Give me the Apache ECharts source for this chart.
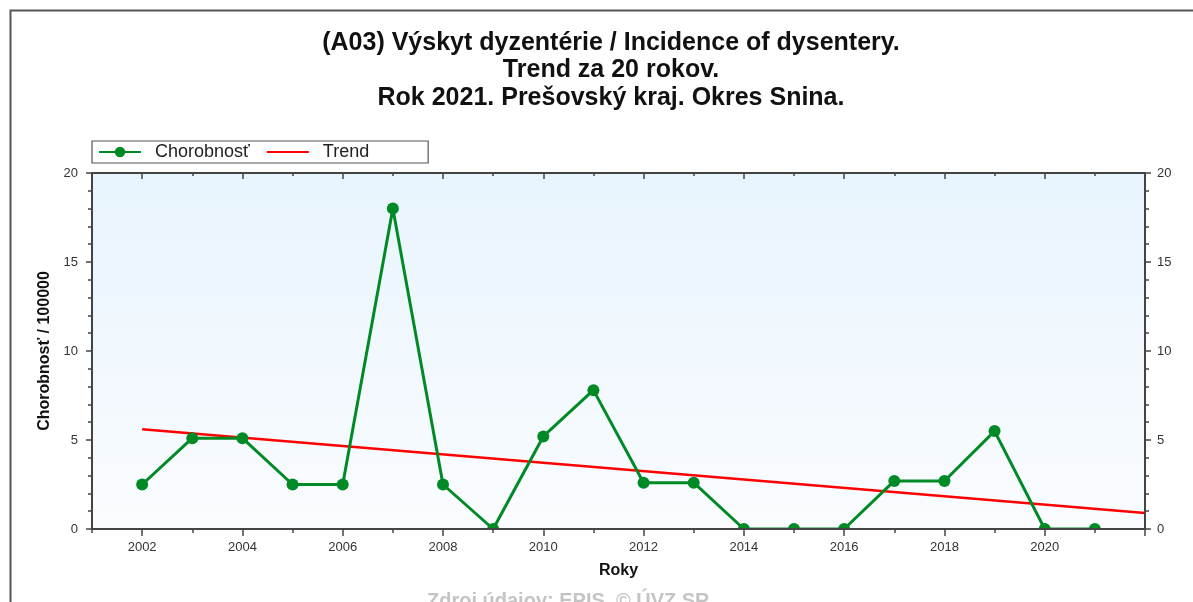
<!DOCTYPE html>
<html>
<head>
<meta charset="utf-8">
<script src="https://cdn.jsdelivr.net/npm/echarts@6/dist/echarts.min.js"></script>
<style>html,body{margin:0;padding:0;background:#fff;}#c{width:1193px;height:602px;}</style>
</head>
<body>
<div id="c"></div>
<script>
// ---- data ----
const titleLines = [
  '(A03) Výskyt dyzentérie / Incidence of dysentery.',
  'Trend za 20 rokov.',
  'Rok 2021. Prešovský kraj. Okres Snina.'
];
const years = [2002, 2003, 2004, 2005, 2006, 2007, 2008, 2009, 2010, 2011,
               2012, 2013, 2014, 2015, 2016, 2017, 2018, 2019, 2020, 2021];
const incidence = [2.5, 5.1, 5.1, 2.5, 2.5, 18.0, 2.5, 0, 5.2, 7.8,
                   2.6, 2.6, 0, 0, 0, 2.7, 2.7, 5.5, 0, 0];
const trendYears = [2002, 2022];
const trendValues = [5.6, 0.9];
const xTickYears = ['2001','2002','2003','2004','2005','2006','2007','2008','2009','2010','2011',
                    '2012','2013','2014','2015','2016','2017','2018','2019','2020','2021','2022'];
const yTicks = [0, 5, 10, 15, 20];
const seriesNames = ['Chorobnosť', 'Trend'];
const xName = 'Roky';
const yName = 'Chorobnosť / 100000';
const sourceText = 'Zdroj údajov: EPIS, © ÚVZ SR';

const FONT = 'Liberation Sans, Arial, sans-serif';
const AX = '#444';
const xMin = Number(xTickYears[0]), xMax = Number(xTickYears[xTickYears.length - 1]);
const yMin = yTicks[0], yMax = yTicks[yTicks.length - 1], yStep = yTicks[1] - yTicks[0];

const chart = echarts.init(document.getElementById('c'), null, {renderer: 'canvas'});
const grid = {left: 92, right: 48, top: 173, bottom: 73, show: true, borderWidth: 0,
  backgroundColor: new echarts.graphic.LinearGradient(0, 0, 0, 1, [
    {offset: 0, color: '#e8f4fd'}, {offset: 1, color: '#fafcff'}])};

const baseVal = {type: 'value', min: xMin, max: xMax, interval: 1, splitLine: {show: false}, z: 10};
const option = {
  animation: false,
  backgroundColor: '#fff',
  textStyle: {fontFamily: FONT},
  title: {
    text: titleLines.join('\n'),
    left: 606, textAlign: 'center', top: 24,
    textStyle: {fontFamily: FONT, fontSize: 25, fontWeight: 'bold', color: '#111', lineHeight: 27.5}
  },
  legend: {
    left: 92, top: 141,
    data: [seriesNames[0], {name: seriesNames[1], itemStyle: {opacity: 0}}],
    itemWidth: 42, itemHeight: 13, itemGap: 16,
    padding: [1, 59, 1, 6],
    borderColor: '#555', borderWidth: 1.2,
    textStyle: {fontFamily: FONT, fontSize: 18, color: '#222', padding: [0, 0, 0, 9], lineHeight: 20}
  },
  grid: grid,
  xAxis: [
    Object.assign({}, baseVal, {
      position: 'bottom', gridIndex: 0,
      name: xName, nameLocation: 'middle', nameGap: 34,
      nameTextStyle: {fontFamily: FONT, fontSize: 16, fontWeight: 'bold', color: '#111'},
      axisLine: {show: true, lineStyle: {color: AX, width: 2}},
      axisTick: {show: true, length: 4, lineStyle: {color: AX, width: 1.5}},
      axisLabel: {fontFamily: FONT, fontSize: 13, color: '#333', margin: 12, showMaxLabel: false,
        formatter: v => (v % 2 === 0 && v < xMax ? String(v) : '')}
    }),
    {
      type: 'category', data: xTickYears, boundaryGap: false, position: 'bottom', z: 10,
      axisLine: {show: false}, axisLabel: {show: false}, splitLine: {show: false},
      axisTick: {show: true, length: 7, interval: (i, v) => Number(v) % 2 === 0,
        lineStyle: {color: AX, width: 1.5}}
    },
    Object.assign({}, baseVal, {
      position: 'top',
      axisLine: {show: true, lineStyle: {color: AX, width: 2}},
      axisTick: {show: true, inside: true, length: 3, lineStyle: {color: AX, width: 1.5}},
      axisLabel: {show: false}
    }),
    {
      type: 'category', data: xTickYears, boundaryGap: false, position: 'top', z: 10,
      axisLine: {show: false}, axisLabel: {show: false}, splitLine: {show: false},
      axisTick: {show: true, inside: true, length: 6, interval: (i, v) => Number(v) % 2 === 0,
        lineStyle: {color: AX, width: 1.5}}
    }
  ],
  yAxis: [
    {
      type: 'value', min: yMin, max: yMax, interval: yStep, position: 'left', z: 10,
      name: yName, nameLocation: 'middle', nameGap: 39,
      nameTextStyle: {fontFamily: FONT, fontSize: 16, fontWeight: 'bold', color: '#111'},
      splitLine: {show: false},
      axisLine: {show: true, lineStyle: {color: AX, width: 2}},
      axisTick: {show: true, length: 6, lineStyle: {color: AX, width: 1.5}},
      minorTick: {show: true, splitNumber: 5, length: 4, lineStyle: {color: AX, width: 1.5}},
      axisLabel: {fontFamily: FONT, fontSize: 13, color: '#333', margin: 14}
    },
    {
      type: 'value', min: yMin, max: yMax, interval: yStep, position: 'right', z: 10,
      splitLine: {show: false},
      axisLine: {show: true, lineStyle: {color: AX, width: 2}},
      axisTick: {show: true, length: 6, lineStyle: {color: AX, width: 1.5}},
      minorTick: {show: true, splitNumber: 5, length: 4, lineStyle: {color: AX, width: 1.5}},
      axisLabel: {fontFamily: FONT, fontSize: 13, color: '#333', margin: 12}
    }
  ],
  series: [
    {
      name: seriesNames[0], type: 'line', xAxisIndex: 0, yAxisIndex: 0,
      data: years.map((y, i) => [y, incidence[i]]),
      symbol: 'circle', symbolSize: 12,
      lineStyle: {color: '#008a26', width: 3},
      itemStyle: {color: '#008a26'},
      z: 3
    },
    {
      name: seriesNames[1], type: 'line', xAxisIndex: 0, yAxisIndex: 0,
      data: trendYears.map((y, i) => [y, trendValues[i]]),
      symbol: 'none', showSymbol: false,
      lineStyle: {color: '#ff0000', width: 2.5},
      itemStyle: {color: '#ff0000'},
      z: 2
    }
  ],
  graphic: [
    {type: 'rect', left: 8, top: 8, z: 0, silent: true,
      shape: {width: 1400, height: 800},
      style: {fill: 'none', stroke: '#555', lineWidth: 2}},
    {type: 'rect', left: 93, top: 530, z: 5, silent: true,
      shape: {width: 1050, height: 8},
      style: {fill: '#fff'}},
    {type: 'text', left: 427, top: 591, z: 20, silent: true,
      style: {text: sourceText, fontFamily: FONT, fontSize: 20, fontWeight: 'bold', fill: '#c4c4c4'}}
  ]
};
chart.setOption(option);
</script>
</body>
</html>
